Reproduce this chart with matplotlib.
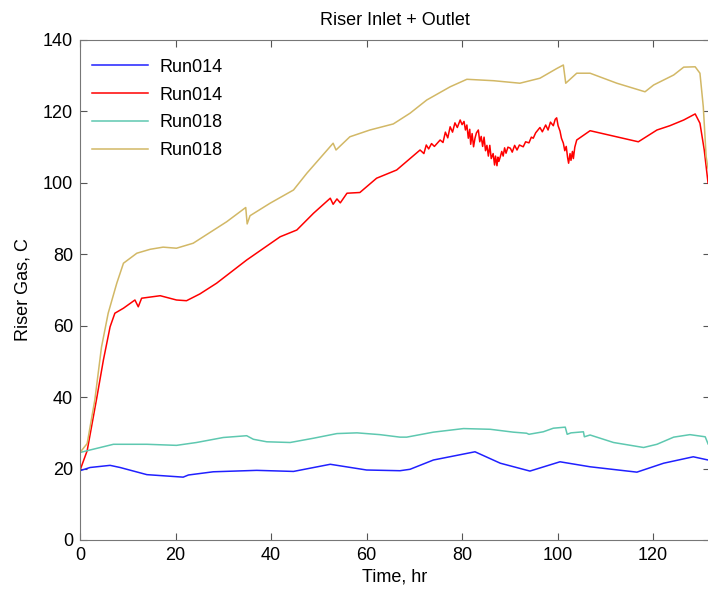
import matplotlib
matplotlib.use("Agg")
import matplotlib.pyplot as plt

plt.rcParams["font.family"] = ["Liberation Sans", "DejaVu Sans"]
plt.rcParams["font.size"] = 13

# Run014 inlet (blue)
t_in14 = [0, 2.1, 6.3, 8.4, 14, 21.6, 22.7, 27.9, 37, 44.7, 52.4, 60, 67, 69.1,
          74, 82.7, 88, 94.2, 100.5, 106.8, 116.6, 122.2, 128.4, 131.5]
v_in14 = [19.4, 20.3, 20.9, 20.3, 18.3, 17.6, 18.2, 19.1, 19.5, 19.2, 21.2, 19.6, 19.4, 19.8,
          22.4, 24.7, 21.5, 19.3, 21.9, 20.5, 19.0, 21.5, 23.3, 22.4]

# Run014 outlet (red)
t_out14 = [0, 1.5, 3.5, 4.9, 6.3, 7.3, 9.1, 11.5, 12.2, 12.9, 16.8, 20.2, 22.3, 25.1,
           28.6, 34.9, 41.9, 45.4, 48.9, 52.4, 53.0, 53.8, 54.5, 55.9, 58.6, 62.1, 66.3,
           71.2, 72.0, 72.5, 73.0, 73.6, 74.2, 75.4, 76.0, 76.5, 77.0, 77.5, 78.0, 78.5,
           79.0, 79.6, 80.0, 80.4, 80.7, 81.0, 81.3, 81.6, 81.8, 82.1, 82.4, 82.7, 83.0,
           83.4, 83.7, 84.0, 84.3, 84.6, 84.9, 85.2, 85.5, 85.8, 86.1, 86.5, 86.8, 87.0,
           87.3, 87.5, 87.7, 88.0, 88.3, 88.6, 88.9, 89.2, 89.6, 90.1, 90.5, 91.0, 91.5,
           92.0, 92.8, 93.3, 94.0, 94.5, 94.9, 95.4, 96.3, 96.8, 97.5, 98.0, 98.5, 99.1,
           99.5, 99.8, 100.1, 100.5, 100.8, 101.2, 101.5, 101.8, 102.1, 102.3, 102.6,
           102.8, 103.1, 103.3, 103.6, 104.0, 106.8, 116.9, 120.8, 123.5, 126.4, 128.8,
           129.8, 130.7, 131.5]
v_out14 = [19.5, 25, 39.7, 50.4, 59.7, 63.5, 64.9, 67.2, 65.3, 67.7, 68.4, 67.2, 67.0, 68.9,
           71.9, 78.4, 84.9, 86.8, 91.5, 95.7, 94.0, 95.5, 94.4, 97.1, 97.3, 101.3, 103.6,
           109.2, 108.2, 110.6, 109.5, 111.0, 110.2, 112.0, 111.3, 114.2, 112.6, 115.7, 114.2, 116.8,
           115.5, 117.6, 116.3, 117.2, 114.8, 116.2, 112.5, 115.0, 110.8, 113.8, 110.1, 112.5, 114.0,
           114.8, 111.5, 113.0, 110.2, 112.8, 109.0, 110.5, 107.5, 110.5, 106.8, 108.2, 105.0, 107.5,
           104.8, 107.2, 106.0, 107.3, 108.8, 107.5, 109.8, 108.3, 110.0, 109.7, 108.6, 110.5, 109.2,
           110.6, 110.1, 111.5, 111.2, 112.8, 112.5, 114.0, 115.5, 114.3, 116.2, 114.8, 117.0, 116.0,
           117.8, 118.2, 116.0, 114.5, 112.5, 111.1, 109.0, 110.2, 107.0, 105.5, 108.2,
           106.3, 108.8, 106.8, 110.0, 112.0, 114.6, 111.5, 114.8, 116.0, 117.6, 119.3,
           116.7, 109.2, 99.9]

# Run018 inlet (teal)
t_in18 = [0, 2.1, 7, 14, 20.2, 24.4, 30, 34.9, 36.3, 39.1, 44, 48.9, 53.8, 58, 62.8, 67,
          68.4, 74, 80.3, 85.9, 90.7, 93.5, 94.0, 97, 99.1, 101.6, 102.0, 102.8, 105.4,
          105.6, 106.8, 111.7, 118, 120.8, 124.3, 127.7, 130.9, 131.5]
v_in18 = [24.5, 25.2, 26.8, 26.8, 26.5, 27.3, 28.7, 29.2, 28.2, 27.5, 27.3, 28.5, 29.8, 30.0, 29.5, 28.8,
          28.8, 30.2, 31.2, 31.0, 30.2, 29.9, 29.6, 30.3, 31.3, 31.6, 29.6, 30.0, 30.3,
          28.9, 29.4, 27.3, 25.9, 26.8, 28.8, 29.5, 28.9, 26.9]

# Run018 outlet (gold)
t_out18 = [0, 1.5, 3.1, 4.5, 5.9, 7.7, 9.1, 11.9, 14.7, 17.4, 20.2, 23.7, 25.8, 30.7,
           34.7, 35.0, 35.6, 39.8, 44.7, 47.5, 53.0, 53.6, 56.5, 60.7, 65.6, 69.1, 72.6,
           77.5, 81.0, 86.6, 92.1, 96.3, 99.8, 101.2, 101.7, 104, 106.8, 112.4, 118.3,
           120.1, 124.3, 126.4, 128.8, 129.8, 130.5, 131.1, 131.5]
v_out18 = [24.5, 27, 39.2, 54.0, 63.5, 71.9, 77.5, 80.3, 81.4, 82.0, 81.7, 83.1, 84.9, 89.1,
           93.1, 88.5, 90.8, 94.3, 98.0, 102.7, 111.1, 109.2, 112.9, 114.8, 116.5, 119.5, 123.2,
           126.9, 129.0, 128.6, 127.9, 129.3, 132.0, 133.0, 127.9, 130.7, 130.7, 127.9, 125.5,
           127.4, 130.2, 132.4, 132.5, 130.7, 121.3, 107.3, 104.0]

labels = ["Run014", "Run014", "Run018", "Run018"]
colors = ["#2020ff", "#ff0000", "#5ec8b0", "#d2b866"]

fig = plt.figure(figsize=(7.08, 5.91), dpi=100)
ax = fig.add_axes([80 / 708, 51 / 591, 629.5 / 708, 500 / 591])

ax.plot(t_in14, v_in14, color=colors[0], lw=1.1, label=labels[0])
ax.plot(t_out14, v_out14, color=colors[1], lw=1.1, label=labels[1])
ax.plot(t_in18, v_in18, color=colors[2], lw=1.1, label=labels[2])
ax.plot(t_out18, v_out18, color=colors[3], lw=1.1, label=labels[3])

ax.set_xlim(0, 131.8)
ax.set_ylim(0, 140)
ax.set_xticks(range(0, 121, 20))
ax.set_yticks(range(0, 141, 20))
ax.tick_params(direction="in", top=True, right=True, length=5, colors="#555555",
               labelcolor="black", labelsize=13, pad=5)
for s in ax.spines.values():
    s.set_color("#777777")

ax.set_title("Riser Inlet + Outlet", fontsize=13, pad=11)
ax.set_xlabel("Time, hr", fontsize=13, labelpad=3)
ax.set_ylabel("Riser Gas, C", fontsize=13, labelpad=8)

ax.legend(loc="upper left", frameon=False, handlelength=3.1, labelspacing=0.6,
          handletextpad=0.6, bbox_to_anchor=(-0.006, 0.995), fontsize=13)

fig.savefig("out.png", dpi=100)
